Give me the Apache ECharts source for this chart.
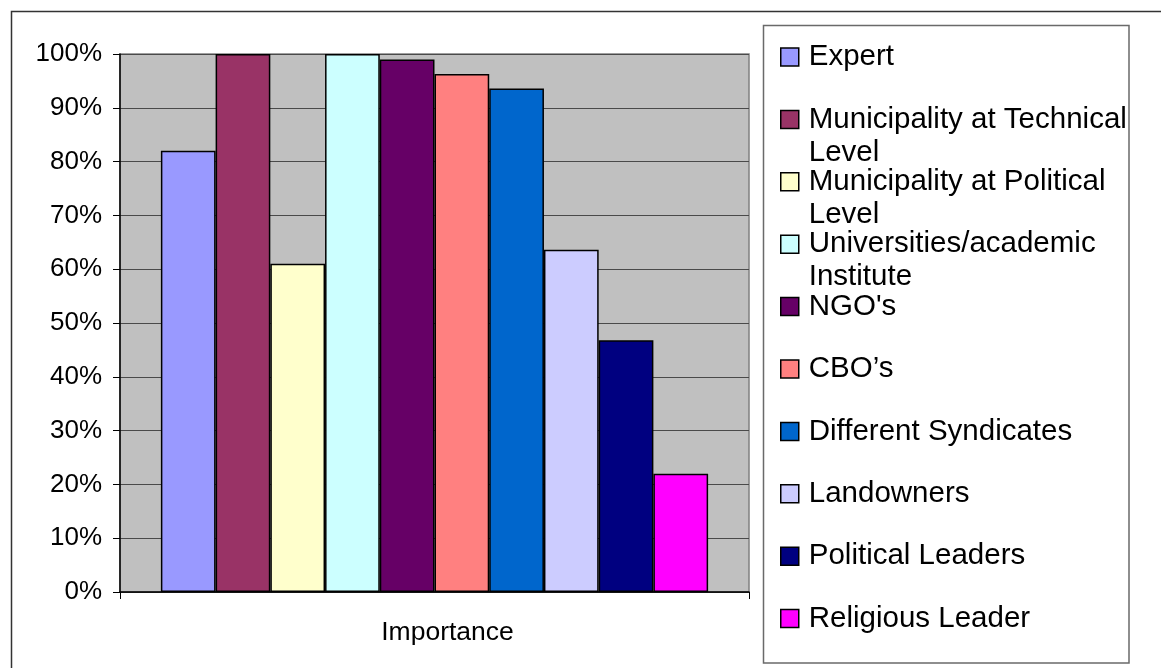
<!DOCTYPE html>
<html>
<head>
<meta charset="utf-8">
<script src="https://cdn.jsdelivr.net/npm/echarts@6/dist/echarts.min.js"></script>
<style>
  html, body { margin: 0; padding: 0; background: #ffffff; }
  #chart { width: 1161px; height: 668px; }
</style>
</head>
<body>
<div id="chart"></div>
<script>
// ---- data ----
const categories = ['Importance'];
const seriesNames = [
  'Expert',
  'Municipality at Technical Level',
  'Municipality at Political Level',
  'Universities/academic Institute',
  "NGO's",
  'CBO\u2019s',
  'Different Syndicates',
  'Landowners',
  'Political Leaders',
  'Religious Leader'
];
const legendLabels = [
  'Expert',
  'Municipality at Technical\nLevel',
  'Municipality at Political\nLevel',
  'Universities/academic\nInstitute',
  "NGO's",
  'CBO\u2019s',
  'Different Syndicates',
  'Landowners',
  'Political Leaders',
  'Religious Leader'
];
const values = [0.82, 1.00, 0.61, 1.00, 0.99, 0.963, 0.936, 0.636, 0.468, 0.22];
const yTicks = [0, 0.1, 0.2, 0.3, 0.4, 0.5, 0.6, 0.7, 0.8, 0.9, 1.0];

// ---- styles ----
const colors = ['#9999FF', '#993366', '#FFFFCC', '#CCFFFF', '#660066',
                '#FF8080', '#0066CC', '#CCCCFF', '#000080', '#FF00FF'];
const FONT = "'Liberation Sans', Arial, sans-serif";

const chart = echarts.init(document.getElementById('chart'), null, { renderer: 'canvas' });

const series = seriesNames.map((name, i) => ({
  name: name,
  type: 'bar',
  data: [values[i]],
  barGap: '0%',
  barCategoryGap: '13%',
  itemStyle: { color: colors[i], borderColor: '#000000', borderWidth: 1.5 },
  emphasis: { disabled: true },
  animation: false
}));

const legendLineH = 33;
const legends = seriesNames.map((name, i) => {
  const twoLines = legendLabels[i].indexOf('\n') >= 0;
  const center = 57 + i * 62.4;
  // two-line labels get a blank first line so the first visible line sits beside the icon
  const shown = twoLines ? '\u00a0\n' + legendLabels[i] : legendLabels[i];
  const offset = twoLines ? (legendLineH * 3) / 2 : legendLineH / 2;
  return {
    data: [name],
    orient: 'vertical',
    left: 780,
    top: center - offset,
    padding: 0,
    itemWidth: 18,
    itemHeight: 18,
    selectedMode: false,
    icon: 'rect',
    formatter: () => shown,
    itemStyle: { borderColor: '#000', borderWidth: 1.5 },
    textStyle: {
      fontFamily: FONT,
      fontSize: 29.5,
      color: '#000',
      lineHeight: legendLineH,
      padding: [0, 0, 0, 5]
    }
  };
});

chart.setOption({
  animation: false,
  backgroundColor: '#ffffff',
  grid: {
    left: 120, right: 412, top: 54, bottom: 76,
    show: true,
    backgroundColor: '#C0C0C0',
    borderColor: '#808080',
    borderWidth: 1.5
  },
  legend: legends,
  xAxis: {
    type: 'category',
    data: categories,
    axisLine: { show: true, lineStyle: { color: '#000', width: 1.5 } },
    axisTick: { show: true, length: 7, lineStyle: { color: '#000', width: 1 } },
    axisLabel: { fontFamily: FONT, fontSize: 26.5, color: '#000', margin: 27, padding: [0, 0, 0, 26] },
    splitLine: { show: false }
  },
  yAxis: {
    type: 'value',
    min: 0,
    max: 1,
    interval: 0.1,
    axisLine: { show: true, lineStyle: { color: '#000', width: 1.5 } },
    axisTick: { show: true, length: 7, lineStyle: { color: '#000', width: 1 } },
    axisLabel: {
      fontFamily: FONT, fontSize: 26, color: '#000', margin: 18,
      formatter: v => {
        const t = yTicks.find(k => Math.abs(k - v) < 1e-6);
        return Math.round((t !== undefined ? t : v) * 100) + '%';
      }
    },
    splitLine: { show: true, lineStyle: { color: '#4a4a4a', width: 1.2 } }
  },
  series: series,
  graphic: [
    {
      type: 'rect',
      silent: true,
      z: -1,
      shape: { x: 11.5, y: 11.5, width: 1400, height: 1000 },
      style: { fill: 'none', stroke: '#333333', lineWidth: 1.5 }
    },
    {
      type: 'rect',
      silent: true,
      z: -1,
      shape: { x: 763.5, y: 25.5, width: 365.5, height: 637.5 },
      style: { fill: '#ffffff', stroke: '#6a6a6a', lineWidth: 1.5 }
    }
  ]
});
</script>
</body>
</html>
